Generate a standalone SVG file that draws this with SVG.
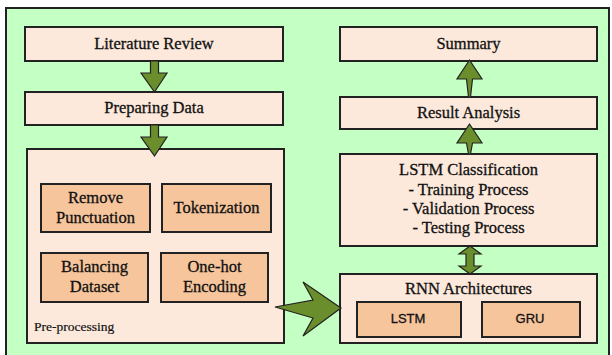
<svg xmlns="http://www.w3.org/2000/svg" width="612" height="355" viewBox="0 0 612 355">
  <style>
    .panel { fill: #c4ffc4; stroke: #222; stroke-width: 2; }
    .box { fill: #fde9dc; stroke: #222; stroke-width: 2; }
    .sub { fill: #f7c59c; stroke: #222; stroke-width: 2; }
    .arrow { fill: #6b8e2c; stroke: #222; stroke-width: 1.2; stroke-linejoin: miter; }
    .t { font-family: "Liberation Serif", "Times New Roman", serif; font-size: 16.5px; fill: #111; stroke: #111; stroke-width: 0.3; text-anchor: middle; }
    .s { font-family: "Liberation Sans", Arial, sans-serif; font-size: 13px; fill: #111; stroke: #111; stroke-width: 0.3; text-anchor: middle; }
    .lbl { font-family: "Liberation Serif", "Times New Roman", serif; font-size: 13.5px; fill: #111; stroke: #111; stroke-width: 0.2; }
  </style>

  <rect width="612" height="355" fill="#ffffff"/>
  <rect class="panel" x="6" y="8" width="603" height="352"/>

  <g id="literature-review">
    <rect class="box" x="25" y="27" width="258" height="34"/>
    <text class="t" x="154" y="49">Literature Review</text>
  </g>

  <g id="preparing-data">
    <rect class="box" x="25" y="92" width="258" height="33"/>
    <text class="t" x="154" y="113">Preparing Data</text>
  </g>

  <g id="pre-processing">
    <rect class="box" x="27" y="149" width="257" height="194"/>
    <text class="lbl" x="34" y="331">Pre-processing</text>
  </g>

  <g id="remove-punctuation">
    <rect class="sub" x="41" y="184" width="109" height="48"/>
    <text class="t" x="95.5" y="203">Remove</text>
    <text class="t" x="95.5" y="223">Punctuation</text>
  </g>

  <g id="tokenization">
    <rect class="sub" x="162" y="184" width="109" height="48"/>
    <text class="t" x="216.5" y="213">Tokenization</text>
  </g>

  <g id="balancing-dataset">
    <rect class="sub" x="41" y="253" width="107" height="49"/>
    <text class="t" x="94.5" y="272">Balancing</text>
    <text class="t" x="94.5" y="292">Dataset</text>
  </g>

  <g id="one-hot-encoding">
    <rect class="sub" x="161" y="253" width="107" height="49"/>
    <text class="t" x="214.5" y="272">One-hot</text>
    <text class="t" x="214.5" y="292">Encoding</text>
  </g>

  <g id="summary">
    <rect class="box" x="340" y="27" width="257" height="34"/>
    <text class="t" x="468.5" y="49">Summary</text>
  </g>

  <g id="result-analysis">
    <rect class="box" x="340" y="97" width="257" height="32"/>
    <text class="t" x="468.5" y="118">Result Analysis</text>
  </g>

  <g id="lstm-classification">
    <rect class="box" x="340" y="154" width="257" height="92"/>
    <text class="t" x="468.5" y="175">LSTM Classification</text>
    <text class="t" x="468.5" y="195">- Training Process</text>
    <text class="t" x="468.5" y="214">- Validation Process</text>
    <text class="t" x="468.5" y="233">- Testing Process</text>
  </g>

  <g id="rnn-architectures">
    <rect class="box" x="340" y="274" width="257" height="69"/>
    <text class="t" x="468.5" y="294">RNN Architectures</text>
  </g>

  <g id="lstm">
    <rect class="sub" x="357" y="302" width="104" height="35"/>
    <text class="s" x="408" y="323">LSTM</text>
  </g>

  <g id="gru">
    <rect class="sub" x="482" y="302" width="98" height="35"/>
    <text class="s" x="530" y="323">GRU</text>
  </g>

  <g id="connectors">
    <!-- Literature Review to Preparing Data -->
    <polygon class="arrow" points="150.5,61 158.5,61 158.5,73 167,73 154.5,92 141,73 150.5,73"/>
    <!-- Preparing Data to Pre-processing -->
    <polygon class="arrow" points="150.5,125 158.5,125 158.5,137 167,137 154.5,156 141,137 150.5,137"/>
    <!-- Pre-processing to RNN Architectures -->
    <polygon class="arrow" points="275,307 313,300 303,282 341,308 303,336 313,318"/>
    <!-- RNN Architectures to LSTM Classification (both ways) -->
    <polygon class="arrow" points="470,246 481,254 474,254 474,266 481,266 470,274 459,266 466,266 466,254 459,254"/>
    <!-- LSTM Classification to Result Analysis -->
    <polygon class="arrow" points="469.5,124 482,143 472.5,143 470.5,154 468.5,154 466.5,143 457,143"/>
    <!-- Result Analysis to Summary -->
    <polygon class="arrow" points="469.5,60 482,79 472.5,79 470.5,97 468.5,97 466.5,79 457,79"/>
  </g>
</svg>
